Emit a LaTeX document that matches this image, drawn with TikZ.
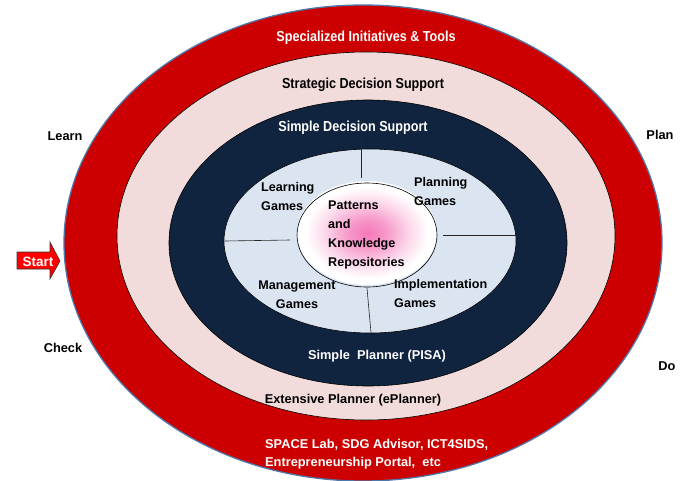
\documentclass[tikz,border=0pt]{standalone}
\usepackage{fontspec}
\setmainfont{Liberation Sans}
\newfontfamily\narrowf[FakeStretch=0.87]{Liberation Sans}
\begin{document}
\definecolor{outred}{RGB}{204,0,0}
\definecolor{rosy}{RGB}{242,220,219}
\definecolor{navy}{RGB}{16,36,63}
\definecolor{paleblue}{RGB}{219,229,241}
\definecolor{rimblue}{RGB}{79,120,170}
\definecolor{pk}{RGB}{245,120,185}
\definecolor{startred}{RGB}{255,0,0}
\pgfdeclareradialshading{pinkglow}{\pgfpoint{0bp}{0bp}}{color(0bp)=(pk); color(7bp)=(pk!75!white); color(15bp)=(pk!30!white); color(22bp)=(white); color(50bp)=(white)}
\begin{tikzpicture}[x=1pt,y=-1pt,
  ring/.style={draw=black,line width=0.6pt},
  divider/.style={draw=black!85,line width=0.6pt},
  narrowlbl/.style={font=\narrowf\bfseries\fontsize{14.5}{16}\selectfont,inner sep=0pt},
  lbl/.style={font=\bfseries\fontsize{12.8}{18.5}\selectfont,inner sep=0pt},
  inlbl/.style={font=\bfseries\fontsize{12.6}{18.8}\selectfont,inner sep=0pt,align=left},
  white/.style={text=white},
  black/.style={text=black}]
\useasboundingbox (0,0) rectangle (687,480);
% rings
\fill[outred] (363,243) ellipse [x radius=299,y radius=238];
\draw[rimblue,line width=1.3pt] (363,243) ellipse [x radius=299,y radius=238];
\draw[ring,fill=rosy] (366,236) ellipse [x radius=249,y radius=184];
\draw[ring,fill=navy] (368,243) ellipse [x radius=199,y radius=143];
\draw[ring,fill=paleblue] (370,241) ellipse [x radius=146,y radius=92];
\shade[shading=pinkglow] (367,233) ellipse [x radius=70,y radius=52];
\draw[ring] (367,235) ellipse [x radius=70,y radius=52];
% dividers
\coordinate (dtA) at (361,116); \coordinate (dtB) at (361,178);
\coordinate (dlA) at (225,241); \coordinate (dlB) at (290,240);
\coordinate (drA) at (443,235); \coordinate (drB) at (516,235);
\coordinate (dbA) at (367,288); \coordinate (dbB) at (371,333);
\draw[divider] (dtA) -- (dtB);
\draw[divider] (dlA) -- (dlB);
\draw[divider] (drA) -- (drB);
\draw[divider] (dbA) -- (dbB);
% ring labels
\node[narrowlbl,white] (spec) at (366,38) {Specialized Initiatives \& Tools};
\node[narrowlbl,black] (strat) at (363,85) {Strategic Decision Support};
\node[narrowlbl,white] (simpds) at (353,128) {Simple Decision Support};
\node[lbl,white] (pisa) at (377,356) {Simple\ \ Planner (PISA)};
\node[lbl,black] (eplan) at (353,400) {Extensive Planner (ePlanner)};
\node[lbl,white,anchor=west,align=left] (space) at (265,454) {SPACE Lab, SDG Advisor, ICT4SIDS,\\Entrepreneurship Portal,\ \ etc};
% inner labels
\node[inlbl,anchor=north west] (learning) at (261,182) {Learning\\Games};
\node[inlbl,anchor=north west] (planning) at (414,177) {Planning\\Games};
\node[inlbl,anchor=north west] (patterns) at (328,201) {Patterns\\and\\Knowledge\\Repositories};
\node[inlbl,anchor=north,align=center] (mgmt) at (297,281) {Management\\Games};
\node[inlbl,anchor=north west] (impl) at (394,279) {Implementation\\Games};
% cycle labels
\node[lbl] (learn) at (65,136) {Learn};
\node[lbl] (plan) at (660,135) {Plan};
\node[lbl] (check) at (63,348) {Check};
\node[lbl] (do) at (667,366) {Do};
% start arrow
\draw[fill=startred,draw=black!80,line width=0.6pt] (17,252) -- (50,252) -- (50,242) -- (60,261) -- (50,279) -- (50,269) -- (17,269) -- cycle;
\node[font=\bfseries\fontsize{13.5}{15}\selectfont,text=white,inner sep=0pt] (start) at (38,261.5) {Start};
\end{tikzpicture}
\end{document}
